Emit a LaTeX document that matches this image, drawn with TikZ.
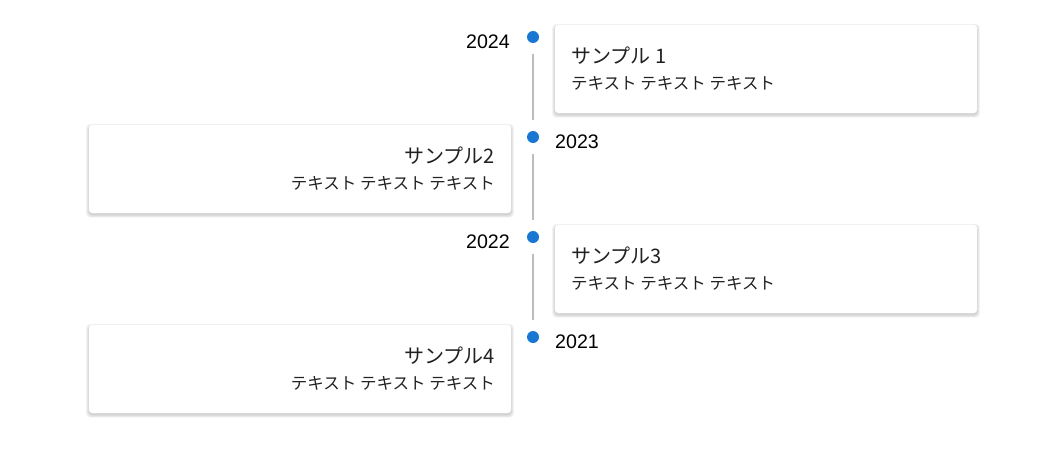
\documentclass[tikz,border=0pt]{standalone}
\usepackage{fontspec}
\setmainfont{Liberation Sans}
\newfontfamily\jp{Noto Sans CJK JP}
\definecolor{dotblue}{HTML}{1976D2}
\definecolor{linegray}{HTML}{BDBDBD}
\definecolor{txt}{HTML}{212121}
\tikzset{
  x=1pt,y=-1pt,
  card/.style={fill=white, rounded corners=3pt, draw=none},
  shadowlayer/.style={fill=black, fill opacity=0.045, draw=none, rounded corners=4pt},
  dot/.style={circle, fill=dotblue, inner sep=0pt, minimum size=12pt},
  year/.style={font=\fontsize{19.6}{22}\selectfont, text=black, inner sep=0pt},
  title/.style={font=\jp\fontsize{20}{23}\selectfont, text=txt, inner sep=0pt},
  sub/.style={font=\jp\fontsize{16.5}{19}\selectfont, text=txt, inner sep=0pt},
  tl/.style={draw=linegray, line width=1.6pt}
}
\newcommand{\mycard}[4]{%
  \foreach \e in {0.5,1.3,2.1,2.9}{%
    \path[shadowlayer] (#1-\e,#2-\e+1.8) rectangle (#3+\e,#4+\e+1.8);}
  \path[card] (#1,#2) rectangle (#3,#4);}
\begin{document}
\begin{tikzpicture}
\useasboundingbox[fill=white] (0,0) rectangle (1044,455);
% cards
\mycard{555}{25}{977}{113}
\mycard{89}{125}{511}{213}
\mycard{555}{225}{977}{313}
\mycard{89}{325}{511}{413}
% dots
\node[dot] (d1) at (533,37) {};
\node[dot] (d2) at (533,137) {};
\node[dot] (d3) at (533,237) {};
\node[dot] (d4) at (533,337) {};
\coordinate (l1a) at (533,54); \coordinate (l1b) at (533,120);
\coordinate (l2a) at (533,154); \coordinate (l2b) at (533,220);
\coordinate (l3a) at (533,254); \coordinate (l3b) at (533,320);
\draw[tl] (l1a) -- (l1b);
\draw[tl] (l2a) -- (l2b);
\draw[tl] (l3a) -- (l3b);
% years
\node[year, anchor=base east] (y1) at (510,48) {2024};
\node[year, anchor=base west] (y2) at (555,148) {2023};
\node[year, anchor=base east] (y3) at (510,248) {2022};
\node[year, anchor=base west] (y4) at (555,348) {2021};
% texts
\node[title, anchor=base west] (t1) at (571,63) {サンプル 1};
\node[sub, anchor=base west] (s1) at (571,89) {テキスト テキスト テキスト};
\node[title, anchor=base east] (t2) at (495,163) {サンプル2};
\node[sub, anchor=base east] (s2) at (495,189) {テキスト テキスト テキスト};
\node[title, anchor=base west] (t3) at (571,263) {サンプル3};
\node[sub, anchor=base west] (s3) at (571,289) {テキスト テキスト テキスト};
\node[title, anchor=base east] (t4) at (495,363) {サンプル4};
\node[sub, anchor=base east] (s4) at (495,389) {テキスト テキスト テキスト};
\end{tikzpicture}
\end{document}
